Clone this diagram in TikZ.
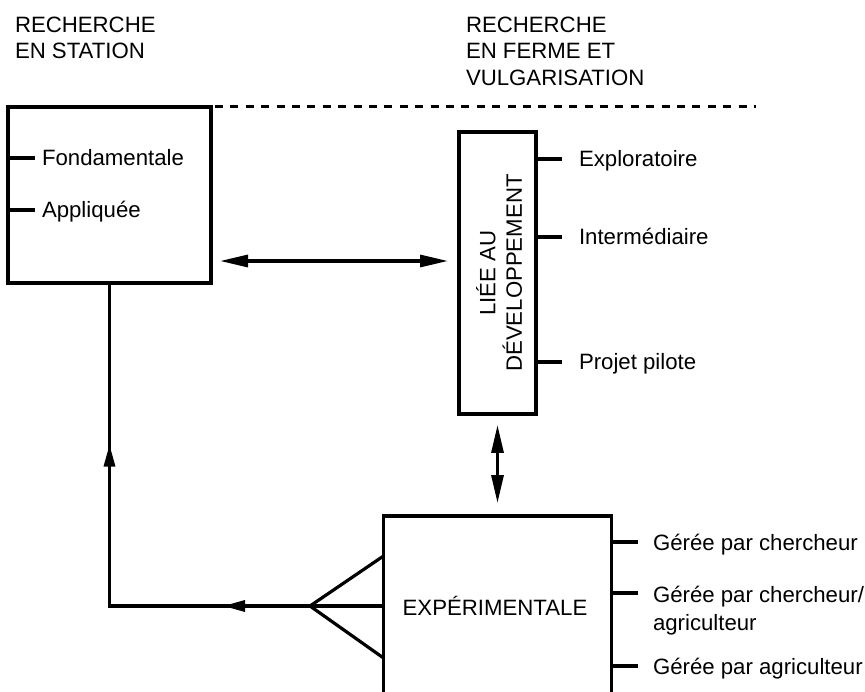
\documentclass[tikz,border=0pt]{standalone}
\usepackage{fontspec}
\setmainfont{Liberation Sans}
\usetikzlibrary{arrows.meta,decorations.markings}
\begin{document}
\begin{tikzpicture}[x=1pt,y=-1pt,line width=3.2pt,
  every node/.style={font=\fontsize{22.2}{26.5}\selectfont,inner sep=0pt,outer sep=0pt},
  boxst/.style={draw,line width=3.4pt},
  lab/.style={anchor=west,text height=16pt,text depth=0pt},
  head/.style={anchor=north west,align=left},
  dbl/.style={{Triangle[length=28pt,width=12pt]}-{Triangle[length=28pt,width=12pt]}},
  tick/.style={line width=3.2pt}]
\useasboundingbox (0,0) rectangle (865,692);
% headings
\node[head] (h1) at (15,17) {RECHERCHE\\EN STATION};
\node[head] (h2) at (466,17) {RECHERCHE\\EN FERME ET\\VULGARISATION};
% boxes
\node[boxst,minimum width=203pt,minimum height=176pt] (lb) at (109.5,195) {};
\node[boxst,minimum width=77pt,minimum height=282pt] (tall) at (497.5,273) {};
\node[rotate=90,align=center] (tl) at (499,273) {LIÉE AU\\DÉVELOPPEMENT};
\node[minimum width=228pt,minimum height=176pt] (exp) at (497.5,604) {};
\node[lab,anchor=center] (expt) at (495,607) {EXPÉRIMENTALE};
\draw[line width=3.4pt] (exp.south west) -- (exp.north west) -- (exp.north east) -- (exp.south east);
% dashed line
\coordinate (dend) at (756,107);
\draw[line width=3pt,dash pattern=on 8pt off 7.4pt] ([xshift=4pt]lb.north east) -- (dend |- lb.north east);
% left labels
\node[lab] (fo) at (42,158) {Fondamentale};
\node[lab] (ap) at (42,210) {Appliquée};
\draw[tick] (lb.west |- fo) -- +(27,0);
\draw[tick] (lb.west |- ap) -- +(27,0);
% tall box labels
\node[lab] (ex) at (579,159) {Exploratoire};
\node[lab] (in) at (579,237) {Intermédiaire};
\node[lab] (pp) at (579,362) {Projet pilote};
\draw[tick] (tall.east |- ex) -- +(26,0);
\draw[tick] (tall.east |- in) -- +(26,0);
\draw[tick] (tall.east |- pp) -- +(26,0);
% bottom box labels
\node[lab] (g1) at (653,542) {Gérée par chercheur};
\node[anchor=west,align=left,font=\fontsize{22.2}{28}\selectfont] (g2) at (653,611) {Gérée par chercheur/\\agriculteur};
\node[lab] (g3) at (653,666) {Gérée par agriculteur};
\coordinate (t2) at (653,593);
\draw[tick] (exp.east |- g1) -- +(26,0);
\draw[tick] (exp.east |- t2) -- +(26,0);
\draw[tick] (exp.east |- g3) -- +(26,0);
% connectors
\coordinate (hy) at (0,261);
\draw[dbl,shorten <=9pt,shorten >=11pt] (lb.east |- hy) -- (tall.west |- hy);
\draw[dbl,shorten <=11pt,shorten >=13pt] (tall.south) -- (exp.north);
% fork
\coordinate (apex) at (310,606);
\draw (apex) -- (exp.west |- 0,556);
\draw (apex) -- (exp.west |- apex);
\draw (apex) -- (exp.west |- 0,658);
% feedback
\coordinate (corner) at (lb.south |- apex);
\draw[postaction={decorate},decoration={markings,
   mark=at position 87pt with {\arrow{Triangle[length=22pt,width=11pt]}},
   mark=at position 362pt with {\arrow{Triangle[length=22pt,width=11pt]}}}]
  (apex) -- (corner) -- (lb.south);
\end{tikzpicture}
\end{document}
